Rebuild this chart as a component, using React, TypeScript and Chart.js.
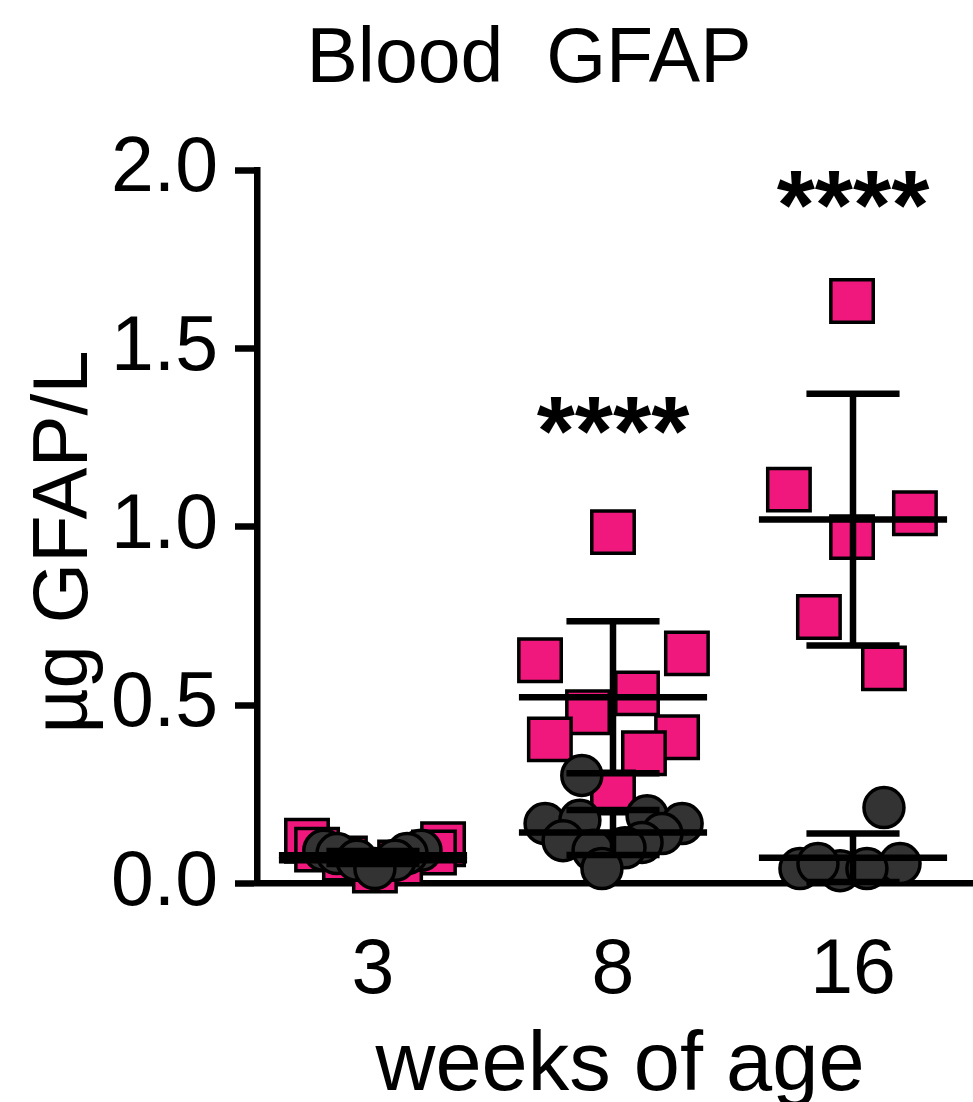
import React, { useEffect, useRef } from 'react';
import { Chart, registerables } from 'chart.js';

Chart.register(...registerables);

// ---------- data ----------
const categories = ['3', '8', '16'];
const yTickValues = [0, 0.5, 1.0, 1.5, 2.0];

// pink squares: values per age group, with horizontal scatter offsets (category units)
const pinkWeek3 = [0.12, 0.095, 0.11, 0.087, 0.07, 0.059, 0.036];
const pinkWeek3Offset = [-0.275, -0.233, 0.292, 0.254, -0.117, 0.113, 0.008];
const pinkWeek8 = [0.985, 0.626, 0.645, 0.533, 0.48, 0.404, 0.41, 0.365, 0.255];
const pinkWeek8Offset = [0.0, -0.304, 0.308, 0.1, -0.104, -0.263, 0.267, 0.129, 0.0];
const pinkWeek16 = [1.633, 1.104, 1.038, 0.971, 0.747, 0.603];
const pinkWeek16Offset = [-0.004, -0.267, 0.258, -0.004, -0.142, 0.129];

// dark circles
const grayWeek3 = [0.093, 0.084, 0.065, 0.093, 0.084, 0.065, 0.042];
const grayWeek3Offset = [-0.205, -0.15, -0.067, 0.2, 0.142, 0.092, 0.008];
const grayWeek8 = [0.303, 0.168, 0.177, 0.19, 0.168, 0.14, 0.12, 0.115, 0.1, 0.093, 0.042];
const grayWeek8Offset = [-0.13, -0.283, -0.138, 0.142, 0.288, 0.204, -0.208, 0.121, 0.05, -0.083, -0.046];
const grayWeek16 = [0.213, 0.056, 0.042, 0.036, 0.042, 0.056];
const grayWeek16Offset = [0.129, 0.196, -0.221, -0.054, 0.058, -0.146];

// mean and SD bars
const pinkMean = [0.079, 0.522, 1.02];
const pinkSD = [0.012, 0.213, 0.353];
const grayMean = [0.065, 0.143, 0.072];
const graySD = [0.01, 0.063, 0.068];

// significance marks
const sigLabels = ['', '****', '****'];
const sigValues = [0, 1.313, 1.944];

const titleText = 'Blood  GFAP';
const yTitleText = 'µg GFAP/L';
const xTitleText = 'weeks of age';

// ---------- style ----------
const FONT = '"Liberation Sans", Arial, Helvetica, sans-serif';
const PINK = 'rgb(241, 24, 125)';
const DARK = '#333333';
const MEAN_HALF = 0.392;
const CAP_HALF = 0.194;
const LINE_W = 6.5;

function toPoints(groups: number[][], offsets: number[][]) {
  const pts: { x: number; y: number }[] = [];
  groups.forEach((vals, gi) => {
    vals.forEach((v, i) => pts.push({ x: gi + offsets[gi][i], y: v }));
  });
  return pts;
}

const annotationPlugin = {
  id: 'meanSdAndLabels',
  afterDatasetsDraw(chart: any) {
    const { ctx } = chart;
    const xs = chart.scales.x;
    const ys = chart.scales.y;
    ctx.save();
    ctx.strokeStyle = '#000';
    ctx.lineWidth = LINE_W;
    ctx.lineCap = 'butt';
    const sets: [number[], number[]][] = [
      [pinkMean, pinkSD],
      [grayMean, graySD],
    ];
    for (const [means, sds] of sets) {
      means.forEach((m, i) => {
        const cx = xs.getPixelForValue(i);
        const mw = xs.getPixelForValue(i + MEAN_HALF) - cx;
        const cw = xs.getPixelForValue(i + CAP_HALF) - cx;
        const py = ys.getPixelForValue(m);
        const top = ys.getPixelForValue(m + sds[i]);
        const bot = ys.getPixelForValue(m - sds[i]);
        ctx.beginPath();
        ctx.moveTo(cx, top);
        ctx.lineTo(cx, bot);
        ctx.moveTo(cx - cw, top);
        ctx.lineTo(cx + cw, top);
        ctx.moveTo(cx - cw, bot);
        ctx.lineTo(cx + cw, bot);
        ctx.moveTo(cx - mw, py);
        ctx.lineTo(cx + mw, py);
        ctx.stroke();
      });
    }
    // significance asterisks
    ctx.fillStyle = '#000';
    ctx.font = `bold 98px ${FONT}`;
    ctx.textAlign = 'center';
    ctx.textBaseline = 'alphabetic';
    sigLabels.forEach((s, i) => {
      if (!s) return;
      const m = ctx.measureText(s);
      const cy = ys.getPixelForValue(sigValues[i]);
      const base = cy + (m.actualBoundingBoxAscent - m.actualBoundingBoxDescent) / 2;
      ctx.fillText(s, xs.getPixelForValue(i), base);
    });
    ctx.restore();
  },
  afterDraw(chart: any) {
    const { ctx } = chart;
    ctx.save();
    ctx.fillStyle = '#000';
    ctx.textBaseline = 'alphabetic';
    // main title
    ctx.font = `77px ${FONT}`;
    ctx.textAlign = 'center';
    ctx.fillText(titleText, 529, 82);
    // x axis title
    ctx.font = `83px ${FONT}`;
    ctx.fillText(xTitleText, 620, 1090);
    // y axis title
    ctx.font = `78px ${FONT}`;
    ctx.translate(87, 542);
    ctx.rotate(-Math.PI / 2);
    ctx.fillText(yTitleText, 0, 0);
    ctx.restore();
  },
};

export default function App() {
  const canvasRef = useRef<HTMLCanvasElement | null>(null);

  useEffect(() => {
    const canvas = canvasRef.current;
    if (!canvas) return;
    const chart = new Chart(canvas, {
      type: 'scatter',
      data: {
        datasets: [
          {
            label: 'dark',
            data: toPoints([grayWeek3, grayWeek8, grayWeek16], [grayWeek3Offset, grayWeek8Offset, grayWeek16Offset]),
            pointStyle: 'circle',
            pointRadius: 20,
            pointHoverRadius: 20,
            backgroundColor: DARK,
            borderColor: '#000',
            borderWidth: 3.5,
            pointBorderWidth: 3.5,
            clip: false,
            order: 0,
          },
          {
            label: 'pink',
            data: toPoints([pinkWeek3, pinkWeek8, pinkWeek16], [pinkWeek3Offset, pinkWeek8Offset, pinkWeek16Offset]),
            pointStyle: 'rect',
            pointRadius: 30,
            pointHoverRadius: 30,
            backgroundColor: PINK,
            borderColor: '#000',
            borderWidth: 3.5,
            pointBorderWidth: 3.5,
            clip: false,
            order: 1,
          },
        ] as any,
      },
      options: {
        animation: false,
        responsive: false,
        events: [],
        layout: { autoPadding: false, padding: { top: 170, left: 0, right: 0, bottom: 0 } },
        plugins: {
          legend: { display: false },
          tooltip: { enabled: false },
          title: { display: false },
        },
        scales: {
          x: {
            type: 'linear',
            position: 'bottom',
            min: -0.4833,
            max: 2.5,
            z: 1,
            afterBuildTicks: (scale: any) => {
              scale.ticks = categories.map((_, i) => ({ value: i }));
            },
            afterFit: (scale: any) => {
              scale.height = 218.5;
              scale.paddingLeft = 0;
              scale.paddingRight = 0;
            },
            ticks: {
              autoSkip: false,
              maxRotation: 0,
              padding: 50,
              color: '#000',
              font: { family: FONT, size: 77, lineHeight: 1 },
              callback: (v: any) => categories[Math.round(Number(v))] ?? '',
            },
            grid: { display: false, drawTicks: false, drawOnChartArea: false },
            border: { display: true, color: '#000', width: LINE_W },
          },
          y: {
            type: 'linear',
            position: 'left',
            min: 0,
            max: 2,
            z: 1,
            afterBuildTicks: (scale: any) => {
              scale.ticks = yTickValues.map((v) => ({ value: v }));
            },
            afterFit: (scale: any) => {
              scale.width = 257;
            },
            ticks: {
              padding: 17,
              color: '#000',
              font: { family: FONT, size: 77, lineHeight: 1 },
              callback: (v: any) => Number(v).toFixed(1),
            },
            grid: {
              display: true,
              drawOnChartArea: false,
              drawTicks: true,
              tickLength: 22,
              tickWidth: LINE_W,
              tickColor: '#000',
            },
            border: { display: true, color: '#000', width: LINE_W },
          },
        },
      } as any,
      plugins: [annotationPlugin],
    });
    return () => chart.destroy();
  }, []);

  return (
    <div style={{ position: 'absolute', left: 0, top: 0, width: 973, height: 1102, background: '#fff' }}>
      <canvas ref={canvasRef} width={973} height={1102} style={{ display: 'block' }} />
    </div>
  );
}
